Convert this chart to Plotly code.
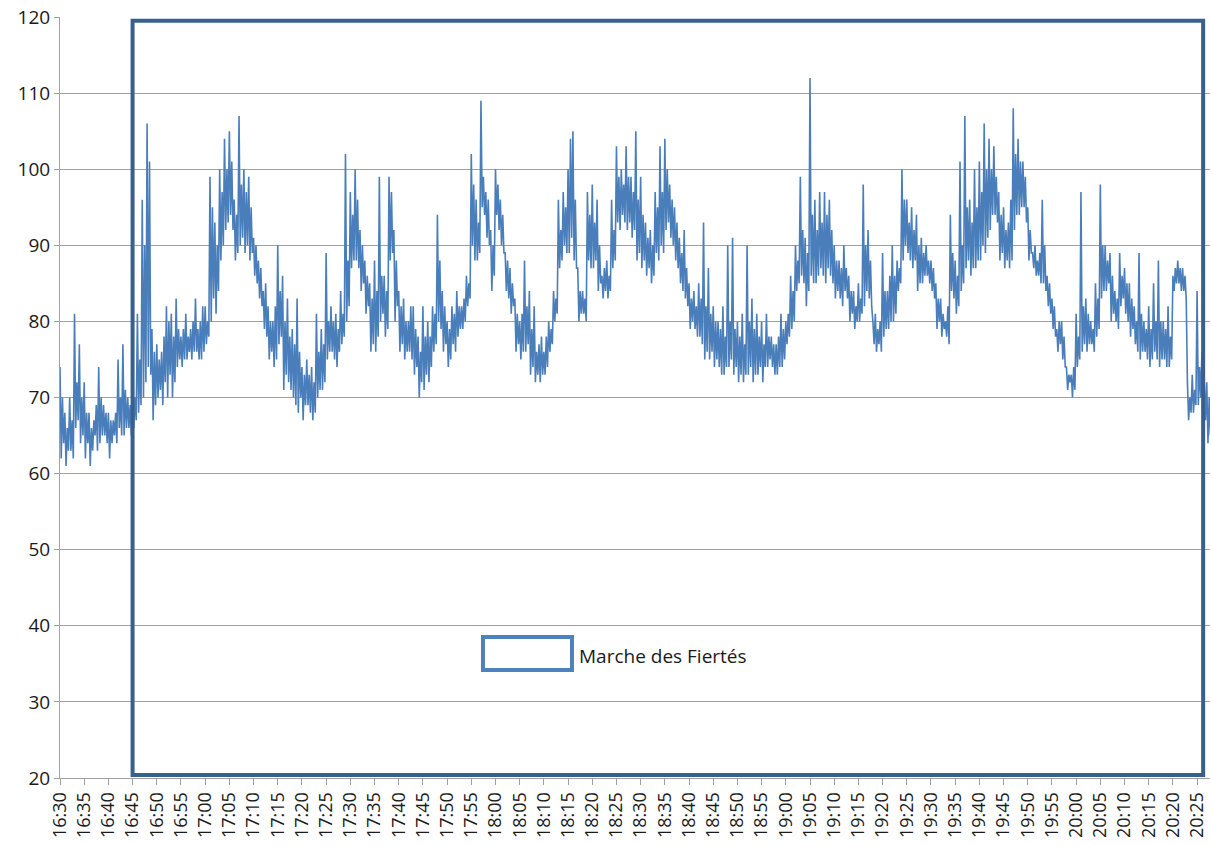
import plotly.graph_objects as go
import pandas as pd

# Sound level samples every 15 seconds starting 16:30,
# one row per minute
start_time = "2024-06-29 16:30:00"
sample_step = "15s"
levels = [
    74,62,70,64, 68,61,66,63, 70,63,67,62, 81,66,72,67, 77,64,70,65,
    72,62,68,64, 68,61,66,63, 67,65,69,63, 74,64,70,65, 69,65,68,64,
    68,62,67,64, 67,65,68,64, 75,66,70,65, 77,65,71,66, 70,66,69,65,
    69,66,70,67, 81,68,75,69, 96,70,90,72, 106,74,101,73, 79,67,76,69,
    77,70,75,71, 76,69,78,72, 82,70,80,73, 81,70,78,72, 83,74,79,75,
    78,74,79,75, 81,75,78,76, 79,75,80,76, 83,76,79,75, 80,75,82,76,
    82,77,80,78, 99,80,95,83, 93,81,90,84, 100,88,97,90, 104,92,100,93,
    105,94,101,92, 96,88,94,89, 107,90,98,91, 100,89,97,90, 99,88,95,89,
    91,86,90,85, 88,83,87,82, 84,79,85,78, 82,75,80,76, 80,74,82,75,
    90,77,84,78, 86,71,80,73, 83,72,78,71, 79,70,77,69, 83,68,76,70,
    74,67,73,69, 75,69,73,68, 74,67,72,68, 81,70,76,71, 79,71,77,72,
    89,75,80,76, 82,76,80,75, 81,74,79,76, 84,77,81,78, 102,80,88,82,
    97,87,94,88, 100,88,96,87, 92,84,90,85, 88,81,86,82, 85,76,83,77,
    88,76,84,78, 99,80,86,81, 86,78,84,79, 99,88,97,89, 92,80,88,82,
    84,76,82,77, 83,75,80,76, 80,76,82,75, 82,73,79,74, 78,70,76,72,
    82,71,78,73, 80,72,78,74, 82,76,81,77, 94,80,88,79, 84,76,82,77,
    80,74,79,75, 82,77,81,76, 84,78,82,79, 82,79,83,80, 86,82,85,83,
    102,90,98,88, 96,88,93,89, 109,95,99,94, 97,91,96,90, 92,84,90,86,
    100,94,98,92, 96,90,94,89, 89,84,88,83, 87,81,85,82, 83,76,81,77,
    80,75,81,76, 88,76,82,77, 84,73,79,74, 82,72,76,73, 77,72,78,73,
    76,73,78,74, 80,76,79,77, 84,80,83,81, 96,87,92,88, 97,90,95,89,
    100,89,104,91, 105,88,96,87, 87,80,84,81, 84,81,83,80, 97,88,94,87,
    98,87,93,88, 96,84,90,85, 86,83,87,84, 88,83,86,84, 96,87,92,88,
    103,93,99,92, 100,94,98,93, 103,92,99,93, 99,91,97,92, 105,88,96,89,
    99,87,94,88, 93,86,91,87, 92,85,90,86, 97,89,95,88, 103,90,97,89,
    104,92,100,93, 98,91,96,90, 95,88,93,87, 91,85,89,84, 92,83,87,82,
    85,79,83,80, 84,79,82,78, 85,78,83,77, 93,75,82,76, 87,75,81,76,
    82,74,80,75, 80,74,79,73, 82,73,78,74, 90,74,80,75, 91,73,79,74,
    80,72,78,73, 81,72,77,73, 90,73,80,74, 83,72,79,73, 81,73,78,74,
    80,72,77,74, 81,74,78,75, 78,74,77,73, 77,73,78,74, 81,74,79,75,
    80,77,81,78, 86,79,84,80, 90,84,88,85, 99,86,92,85, 91,82,89,84,
    112,86,94,85, 96,85,92,86, 97,87,93,86, 97,85,94,87, 96,86,92,85,
    90,83,88,84, 88,83,87,82, 90,84,87,83, 86,80,84,81, 84,79,82,80,
    85,80,83,81, 98,82,90,84, 92,83,88,82, 80,77,81,76, 79,77,80,76,
    89,78,84,79, 84,79,86,80, 90,80,86,81, 88,84,87,85, 100,88,96,90,
    96,89,93,88, 95,87,92,88, 94,84,90,85, 91,85,89,86, 90,86,88,85,
    88,84,87,83, 85,79,83,80, 83,78,81,79, 80,78,82,77, 94,84,89,83,
    88,81,86,82, 101,84,90,85, 107,87,95,88, 96,86,93,87, 100,87,95,88,
    101,88,97,90, 106,89,100,91, 104,92,100,94, 103,94,99,93, 97,88,94,89,
    95,87,92,88, 93,87,96,88, 108,92,102,94, 104,94,101,95, 101,95,99,93,
    95,88,92,89, 89,87,90,86, 88,86,89,85, 96,85,90,84, 86,82,85,81,
    83,79,82,78, 79,76,80,77, 80,75,78,74, 74,71,73,72, 73,70,74,71,
    81,74,78,75, 97,76,82,77, 83,76,81,77, 80,77,79,76, 85,78,83,79,
    98,83,90,84, 90,84,88,85, 89,80,86,81, 84,80,83,79, 89,82,86,83,
    87,81,85,80, 85,78,83,79, 82,77,80,76, 89,75,81,76, 80,76,79,75,
    82,74,79,75, 85,76,80,75, 88,74,80,75, 80,75,79,74, 82,74,78,75,
    86,84,87,85, 88,85,87,84, 87,84,86,83, 72,67,70,68, 73,68,71,69,
    84,69,74,70, 76,66,72,67, 72,64,70,65,
]
times = pd.date_range(start_time, periods=len(levels), freq=sample_step)

# Axis / annotation settings
x_range = ["2024-06-29 16:30:00", "2024-06-29 20:27:40"]
y_range = [20, 120]
event_label = "Marche des Fiertés"
event_start = "2024-06-29 16:45:00"
event_end = "2024-06-29 20:26:15"
event_low = 20.4
event_high = 119.5

font_family = "Open Sans, Lato, DejaVu Sans, sans-serif"

fig = go.Figure()
fig.add_trace(go.Scatter(
    x=times, y=levels, mode="lines",
    line=dict(color="#4A7EBB", width=1.6),
    showlegend=False, hoverinfo="x+y",
))

# Event rectangle
fig.add_shape(type="rect", xref="x", yref="y",
              x0=event_start, x1=event_end, y0=event_low, y1=event_high,
              line=dict(color="#3A5F8E", width=4), fillcolor="rgba(0,0,0,0)")

# Legend-like key (box + text)
fig.add_shape(type="rect", xref="paper", yref="paper",
              x0=0.3678, x1=0.4452, y0=0.1419, y1=0.1853,
              line=dict(color="#4F81BD", width=4), fillcolor="white")
fig.add_annotation(xref="paper", yref="paper", x=0.4496, y=0.1603,
                   text=event_label, showarrow=False, xanchor="left", yanchor="middle",
                   font=dict(family=font_family, size=19, color="#1a1a1a"))

fig.update_layout(
    width=1212, height=846,
    margin=dict(l=60, r=2, t=17, b=68, autoexpand=False),
    plot_bgcolor="white", paper_bgcolor="white",
    font=dict(family=font_family, size=16, color="#1a1a1a"),
)
fig.update_xaxes(
    type="date", range=x_range,
    tick0="2024-06-29 16:30:00", dtick=300000, tickformat="%H:%M",
    tickangle=-90, ticks="outside", ticklen=6, tickcolor="#A0A0A0",
    showgrid=False, showline=True, linecolor="#A0A0A0", linewidth=1,
    tickfont=dict(size=18), zeroline=False,
)
fig.update_yaxes(
    range=y_range, dtick=10, tick0=20,
    showgrid=True, gridcolor="#A0A0A0", gridwidth=1,
    ticks="outside", ticklen=5, tickcolor="#A0A0A0",
    showline=True, linecolor="#A0A0A0", linewidth=1,
    tickfont=dict(size=19), zeroline=False,
)

fig.write_html(
    "out.html",
    config={"displayModeBar": False},
    post_script="document.body.style.margin='0';document.body.style.overflow='hidden';",
)
